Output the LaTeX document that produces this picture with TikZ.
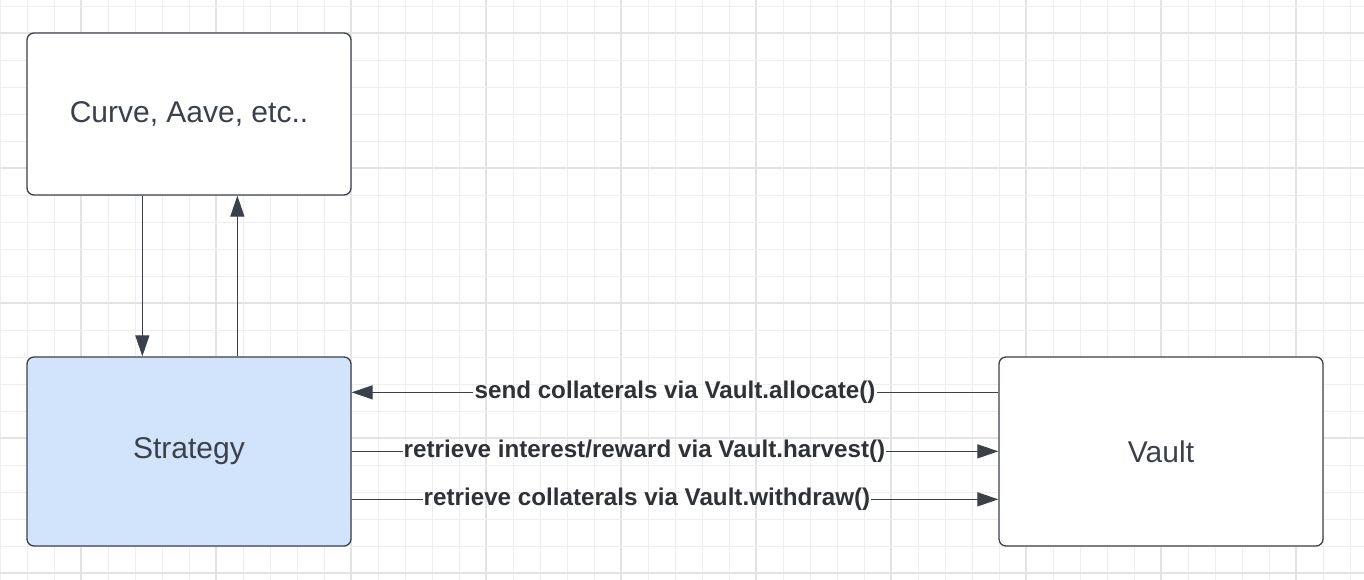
\documentclass[tikz,border=0pt]{standalone}
\usepackage{fontspec}
\setmainfont{Liberation Sans}
\usetikzlibrary{arrows.meta}
\definecolor{ink}{HTML}{3A414A}
\definecolor{labelink}{HTML}{2E3136}
\definecolor{gridminor}{HTML}{EEEEEE}
\definecolor{gridmajor}{HTML}{E3E3E3}
\definecolor{stratfill}{HTML}{D2E3FC}
\begin{document}
\begin{tikzpicture}[x=1pt,y=-1pt,
  box/.style={draw=ink, line width=1.3pt, rounded corners=7pt, fill=white,
    minimum width=324pt, text=ink, font=\fontsize{30}{35}\selectfont},
  conn/.style={draw=ink, line width=1.2pt},
  arr/.style={conn, -{Triangle[length=21pt,width=14pt]}},
  lbl/.style={inner sep=1pt, text=labelink, font=\fontsize{24.2}{29}\selectfont\bfseries}]
\useasboundingbox (0,0) rectangle (1364,580);
% background grid: minor every 27, slightly heavier every fifth line
\foreach \k in {0,...,50}{
  \pgfmathtruncatemacro{\m}{mod(\k,5)}
  \ifnum\m=3 \draw[gridmajor, line width=1.1pt] (27*\k,0) -- (27*\k,580);
  \else \draw[gridminor, line width=0.9pt] (27*\k,0) -- (27*\k,580); \fi
}
\foreach \k in {0,...,21}{
  \pgfmathtruncatemacro{\m}{mod(\k,5)}
  \ifnum\m=1 \draw[gridmajor, line width=1.1pt] (0,6+27*\k) -- (1364,6+27*\k);
  \else \draw[gridminor, line width=0.9pt] (0,6+27*\k) -- (1364,6+27*\k); \fi
}
% boxes
\node[box, minimum height=162pt] (curve) at (189,114) {Curve, Aave, etc..};
\node[box, minimum height=189pt, fill=stratfill] (strategy) at (189,451.5) {Strategy};
\node[box, minimum height=189pt] (vault) at (1161,451.5) {Vault};
% vertical connectors
\draw[arr] ([xshift=116pt]curve.south west) -- ([xshift=116pt]strategy.north west);
\draw[arr] ([xshift=211pt]strategy.north west) -- ([xshift=211pt]curve.south west);
% labelled connectors between Strategy and Vault
\node[lbl] (l1) at (675,392) {send collaterals via Vault.allocate()};
\node[lbl] (l2) at (644.5,451) {retrieve interest/reward via Vault.harvest()};
\node[lbl] (l3) at (647,499) {retrieve collaterals via Vault.withdraw()};
\draw[conn] ([yshift=-36pt]vault.north west) -- ([yshift=-36pt]vault.north west -| l1.east);
\draw[arr] ([yshift=-36pt]strategy.north east -| l1.west) -- ([yshift=-36pt]strategy.north east);
\draw[conn] ([yshift=-95pt]strategy.north east) -- ([yshift=-95pt]strategy.north east -| l2.west);
\draw[arr] ([yshift=-95pt]vault.north west -| l2.east) -- ([yshift=-95pt]vault.north west);
\draw[conn] ([yshift=-143pt]strategy.north east) -- ([yshift=-143pt]strategy.north east -| l3.west);
\draw[arr] ([yshift=-143pt]vault.north west -| l3.east) -- ([yshift=-143pt]vault.north west);
\end{tikzpicture}
\end{document}
